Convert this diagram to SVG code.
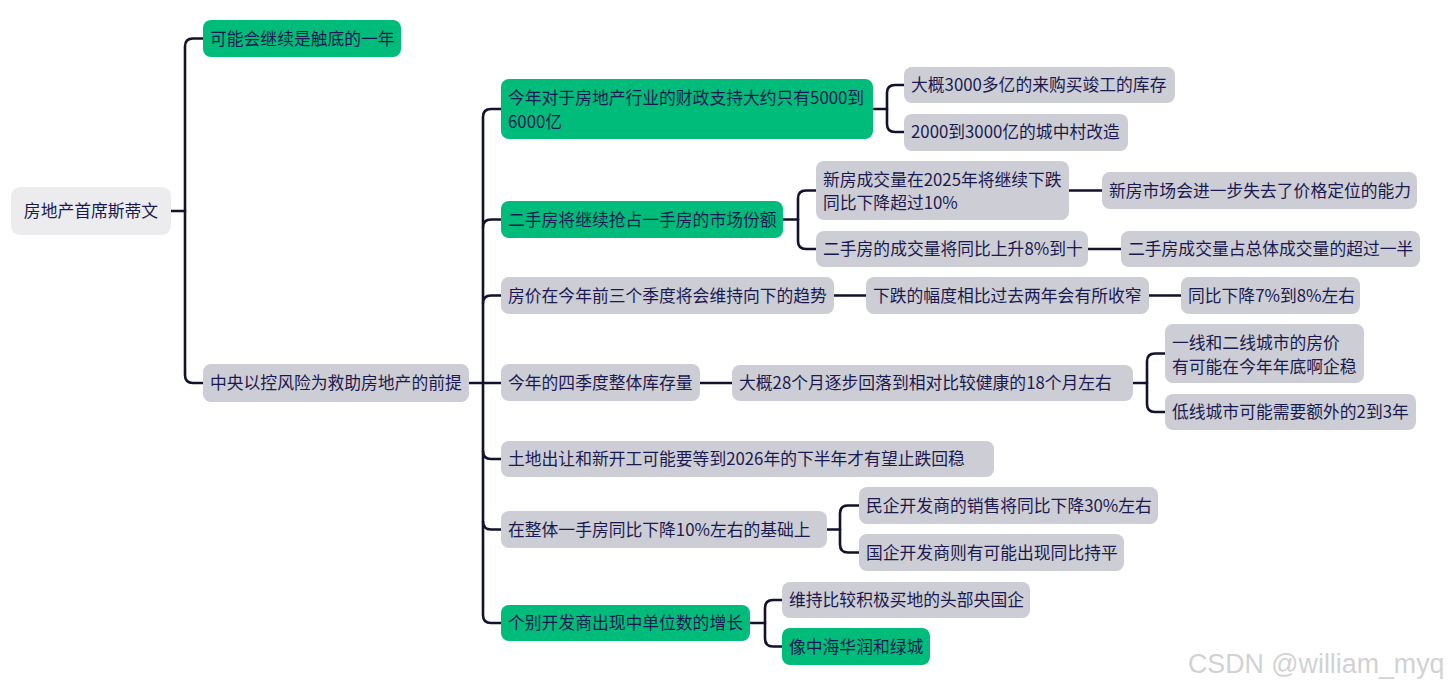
<svg xmlns="http://www.w3.org/2000/svg" width="1450" height="688" viewBox="0 0 1450 688">
<style>
  .t { font-family: "Noto Sans CJK SC", "Inter", sans-serif; font-size: 16.8px; fill: #1b1a50; }
  .g rect { fill: #00bc7b; }
  .s rect { fill: #cdcdd5; }
  .r rect { fill: #ecebee; }
  .c path { fill: none; stroke: #12122e; stroke-width: 2.6; stroke-linecap: round; stroke-linejoin: round; }
  .wm { font-family: "Liberation Sans", Arial, sans-serif; font-size: 26.8px; fill: #d2d2d2; }
</style>
<rect width="1450" height="688" fill="#ffffff"/>
<g class="c" id="connectors">
  <path d="M171,211 H185"/>
  <path d="M203,38.5 H193 Q185,38.5 185,46.5 V375 Q185,383 193,383 H203"/>
  <path d="M469,383 H501"/>
  <path d="M501,109 H491 Q483,109 483,117 V615 Q483,623 491,623 H501"/>
  <path d="M483,227.5 Q483,219.5 491,219.5 H501"/>
  <path d="M483,303.5 Q483,295.5 491,295.5 H501"/>
  <path d="M483,451 Q483,459 491,459 H501"/>
  <path d="M483,521.5 Q483,529.5 491,529.5 H501"/>
  <path d="M873,109 H887"/>
  <path d="M904,85 H895 Q887,85 887,93 V124 Q887,132 895,132 H904"/>
  <path d="M783,219.5 H798"/>
  <path d="M816,190.5 H806 Q798,190.5 798,198.5 V241 Q798,249 806,249 H816"/>
  <path d="M1069,190.5 H1102"/>
  <path d="M1088,249 H1121"/>
  <path d="M834,295.5 H866"/>
  <path d="M1149,295.5 H1181"/>
  <path d="M700,383 H732"/>
  <path d="M1133,383 H1147"/>
  <path d="M1165,353.5 H1155 Q1147,353.5 1147,361.5 V404 Q1147,412 1155,412 H1165"/>
  <path d="M827,529.5 H840"/>
  <path d="M859,505.5 H848 Q840,505.5 840,513.5 V544.5 Q840,552.5 848,552.5 H859"/>
  <path d="M750,623 H765"/>
  <path d="M782,600 H773 Q765,600 765,608 V638.5 Q765,646.5 773,646.5 H782"/>
</g>
<g id="root" class="r"><rect x="11" y="187" width="160" height="48" rx="9"/><text class="t" x="91" y="217" text-anchor="middle">房地产首席斯蒂文</text></g>
<g id="n1" class="g"><rect x="203" y="20" width="198" height="37" rx="8"/><text class="t" x="210" y="44.5">可能会继续是触底的一年</text></g>
<g id="n2" class="s"><rect x="203" y="364" width="266" height="38" rx="8"/><text class="t" x="210" y="389">中央以控风险为救助房地产的前提</text></g>
<g id="a" class="g"><rect x="501" y="79" width="372" height="60" rx="8"/><text class="t" x="508" y="104">今年对于房地产行业的财政支持大约只有5000到</text><text class="t" x="508" y="128">6000亿</text></g>
<g id="a1" class="s"><rect x="904" y="67" width="271" height="36" rx="8"/><text class="t" x="911" y="91">大概3000多亿的来购买竣工的库存</text></g>
<g id="a2" class="s"><rect x="904" y="114" width="224" height="37" rx="8"/><text class="t" x="911" y="138">2000到3000亿的城中村改造</text></g>
<g id="b" class="g"><rect x="501" y="201" width="282" height="37" rx="8"/><text class="t" x="508" y="225.5">二手房将继续抢占一手房的市场份额</text></g>
<g id="b1" class="s"><rect x="816" y="161" width="253" height="59" rx="8"/><text class="t" x="823" y="186">新房成交量在2025年将继续下跌</text><text class="t" x="823" y="209">同比下降超过10%</text></g>
<g id="b1a" class="s"><rect x="1102" y="172" width="315" height="37" rx="8"/><text class="t" x="1109" y="196.5">新房市场会进一步失去了价格定位的能力</text></g>
<g id="b2" class="s"><rect x="816" y="231" width="272" height="36" rx="8"/><text class="t" x="823" y="255">二手房的成交量将同比上升8%到十</text></g>
<g id="b2a" class="s"><rect x="1121" y="231" width="299" height="36" rx="8"/><text class="t" x="1128" y="255">二手房成交量占总体成交量的超过一半</text></g>
<g id="c" class="s"><rect x="501" y="277" width="333" height="37" rx="8"/><text class="t" x="508" y="301.5">房价在今年前三个季度将会维持向下的趋势</text></g>
<g id="c1" class="s"><rect x="866" y="277" width="283" height="37" rx="8"/><text class="t" x="873" y="301.5">下跌的幅度相比过去两年会有所收窄</text></g>
<g id="c1a" class="s"><rect x="1181" y="277" width="179" height="37" rx="8"/><text class="t" x="1188" y="301.5">同比下降7%到8%左右</text></g>
<g id="d" class="s"><rect x="501" y="364" width="199" height="37" rx="8"/><text class="t" x="508" y="389">今年的四季度整体库存量</text></g>
<g id="d1" class="s"><rect x="732" y="365" width="401" height="36" rx="8"/><text class="t" x="739" y="389">大概28个月逐步回落到相对比较健康的18个月左右</text></g>
<g id="d1a" class="s"><rect x="1165" y="324" width="199" height="59" rx="8"/><text class="t" x="1172" y="349">一线和二线城市的房价</text><text class="t" x="1172" y="373">有可能在今年年底啊企稳</text></g>
<g id="d1b" class="s"><rect x="1165" y="394" width="251" height="36" rx="8"/><text class="t" x="1172" y="418">低线城市可能需要额外的2到3年</text></g>
<g id="e" class="s"><rect x="501" y="441" width="493" height="36" rx="8"/><text class="t" x="508" y="465">土地出让和新开工可能要等到2026年的下半年才有望止跌回稳</text></g>
<g id="f" class="s"><rect x="501" y="511" width="326" height="37" rx="8"/><text class="t" x="508" y="535.5">在整体一手房同比下降10%左右的基础上</text></g>
<g id="f1" class="s"><rect x="859" y="487" width="299" height="37" rx="8"/><text class="t" x="866" y="511.5">民企开发商的销售将同比下降30%左右</text></g>
<g id="f2" class="s"><rect x="859" y="534" width="265" height="37" rx="8"/><text class="t" x="866" y="558.5">国企开发商则有可能出现同比持平</text></g>
<g id="g" class="g"><rect x="501" y="605" width="249" height="36" rx="8"/><text class="t" x="508" y="629">个别开发商出现中单位数的增长</text></g>
<g id="g1" class="s"><rect x="782" y="582" width="248" height="36" rx="8"/><text class="t" x="789" y="606">维持比较积极买地的头部央国企</text></g>
<g id="g2" class="g"><rect x="782" y="628" width="148" height="37" rx="8"/><text class="t" x="789" y="652.5">像中海华润和绿城</text></g>
<text class="wm" x="1188" y="673">CSDN @william_myq</text>
</svg>
